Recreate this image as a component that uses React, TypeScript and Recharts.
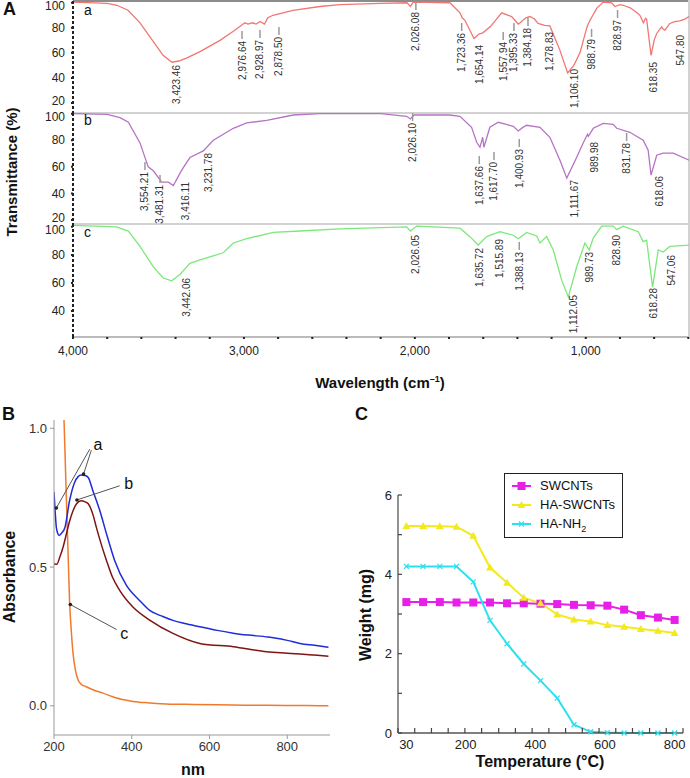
import React from "react"
import { LineChart, Line, XAxis, YAxis, ReferenceDot, ReferenceLine, Legend } from "recharts"

const FONT = "'Liberation Sans', Arial, sans-serif"

// ---------- A: FTIR spectra ----------
const COLOR_A = "#f27672"
const COLOR_B = "#b574c4"
const COLOR_C = "#7ce87a"

const wnA = [4000, 3800, 3743, 3678, 3608, 3509, 3473, 3421, 3380, 3333, 3257, 3140, 3064, 2994, 2976, 2950, 2929, 2905, 2880, 2860, 2830, 2713, 2555, 2438, 2200, 2046, 2026, 2010, 1795, 1736, 1723, 1707, 1654, 1625, 1602, 1558, 1540, 1492, 1434, 1395, 1384, 1350, 1327, 1300, 1279, 1240, 1210, 1151, 1106, 1070, 1034, 995, 989, 975, 936, 898, 849, 829, 800, 781, 740, 700, 683, 663, 650, 644, 618, 600, 585, 556, 548, 537, 508, 480, 450, 420, 396]
const tA = [100.5, 99.5, 98, 94, 84, 65, 58, 52.5, 53.5, 56, 61, 70, 77, 84, 83, 84, 83, 85, 83, 88, 90, 94, 97, 98.5, 99.5, 100, 97, 100.5, 100, 92, 88, 86, 71.5, 75, 76, 81, 84, 92, 89, 83, 84, 88, 89, 87, 83.5, 82, 81.5, 62, 44, 50, 60, 79.5, 82, 86, 95.5, 100.5, 100, 97, 98.5, 98, 96, 92, 90, 84, 87.5, 87, 58, 70, 75.5, 80.8, 79, 78.2, 83.5, 85, 85.6, 87, 89]

const wnB = [4000, 3800, 3725, 3676, 3608, 3560, 3530, 3481, 3442, 3413, 3364, 3316, 3238, 3179, 3062, 2984, 2867, 2711, 2555, 2384, 2200, 2048, 2026, 2005, 1795, 1736, 1668, 1638, 1619, 1603, 1596, 1561, 1512, 1424, 1395, 1370, 1346, 1268, 1210, 1151, 1111, 1053, 1015, 990, 985, 956, 898, 840, 819, 742, 664, 635, 618, 585, 547, 488, 395]
const tB = [100, 99.5, 97, 93.5, 78, 60, 57, 48.5, 48.5, 46, 57.5, 67, 72, 80, 89, 93, 95, 99, 100, 100, 100, 98, 96, 99, 99, 98, 89.75, 78.5, 74.75, 82.25, 74.75, 89.75, 93.5, 90.5, 87, 89.5, 91.25, 89.75, 82.25, 65, 51.5, 67.25, 78, 84.5, 83, 89, 92.75, 92, 89, 86, 80, 72.5, 53.75, 68.75, 70.25, 70.25, 65]

const wnC = [4000, 3745, 3676, 3608, 3530, 3472, 3423, 3374, 3316, 3257, 3121, 3062, 2984, 2828, 2672, 2438, 2048, 2026, 1990, 1736, 1678, 1629, 1580, 1502, 1424, 1395, 1346, 1287, 1268, 1229, 1190, 1141, 1102, 1053, 1005, 980, 956, 907, 839, 819, 781, 693, 664, 644, 609, 576, 547, 508, 395]
const tC = [101, 100, 97, 86, 71.5, 63.5, 61.5, 66, 74, 76.5, 81.5, 88.5, 91.5, 96, 97, 98.5, 100, 97, 100.5, 99, 93, 87, 93, 96.5, 94, 91.5, 96, 93.5, 88.5, 93, 83.5, 62, 50, 71.5, 88.5, 83.5, 92, 100.5, 100.5, 98, 100.5, 96.5, 89.5, 90.5, 57, 83.5, 82, 86, 87]

// peak labels: text, wavenumber of label, transmittance at label top, leader line
const peaksA: [string, number, number, boolean][] = [
  ["3,423.46", 3393, 50.3, false], ["2,976.64", 3011, 69.5, true], ["2,928.97", 2906, 70.3, true],
  ["2,878.50", 2795, 72.7, true], ["2,026.08", 1994, 92.6, true], ["1,723.36", 1726, 75.9, true],
  ["1,654.14", 1619, 66.3, false], ["1,557.94", 1483, 68.7, true], ["1,395.33", 1420, 75.9, true],
  ["1,384.18", 1338, 79.9, true], ["1,278.83", 1214, 76.7, false], ["1,106.10", 1067, 47.1, false],
  ["988.79", 966, 71.1, true], ["828.97", 814, 86.2, true], ["618.35", 605, 52.7, false], ["547.80", 445, 74.3, false],
]
const peaksB: [string, number, number, boolean][] = [
  ["3,554.21", 3579, 56.1, true], ["3,481.31", 3491, 46.4, true], ["3,416.11", 3339, 48.6, false],
  ["3,231.78", 3210, 70.4, false], ["2,026.10", 2013, 93, true], ["1,637.66", 1623, 60.6, true],
  ["1,617.70", 1537, 63.7, true], ["1,400.93", 1389, 73.4, true], ["1,111.67", 1063, 50.1, false],
  ["989.98", 946, 78.7, false], ["831.78", 761, 77.9, true], ["618.06", 570, 53.1, false],
]
const peaksC: [string, number, number, boolean][] = [
  ["3,442.06", 3335, 63.6, false], ["2,026.05", 1995, 94.2, false], ["1,635.72", 1623, 84.9, false],
  ["1,515.89", 1502, 91.3, false], ["1,388.13", 1389, 82.1, true], ["1,112.05", 1073, 51.4, false],
  ["989.73", 980, 82.1, false], ["828.90", 819, 94.2, false], ["618.28", 605, 56.4, false], ["547.06", 498, 79.9, false],
]
const wnTicks = [4000, 3800, 3600, 3400, 3200, 3000, 2800, 2600, 2400, 2200, 2000, 1800, 1600, 1400, 1200, 1000, 800, 600, 400]

// ---------- B: UV-vis ----------
const nmBlue = [200, 203, 206, 210, 213, 218, 228, 240, 253, 262, 270, 280, 288, 300, 318, 335, 356, 386, 420, 446, 480, 506, 540, 575, 620, 661, 700, 750, 764, 800, 833, 870, 906]
const absBlue = [0.77, 0.7, 0.643, 0.62, 0.614, 0.62, 0.642, 0.739, 0.805, 0.826, 0.832, 0.83, 0.823, 0.775, 0.703, 0.62, 0.524, 0.435, 0.38, 0.344, 0.322, 0.308, 0.296, 0.285, 0.272, 0.262, 0.255, 0.248, 0.245, 0.236, 0.225, 0.218, 0.211]
const nmRed = [200, 207, 215, 224, 232, 240, 249, 258, 270, 280, 288, 300, 309, 322, 335, 350, 369, 403, 446, 506, 575, 661, 747, 800, 833, 870, 906]
const absRed = [0.512, 0.51, 0.536, 0.575, 0.62, 0.665, 0.703, 0.728, 0.739, 0.735, 0.728, 0.69, 0.643, 0.58, 0.524, 0.465, 0.416, 0.356, 0.309, 0.261, 0.225, 0.213, 0.195, 0.19, 0.187, 0.183, 0.179]
const nmOrange = [222, 226, 229, 232, 236, 240, 245, 249, 255, 262, 270, 283, 300, 326, 345, 361, 380, 403, 440, 489, 560, 661, 750, 850, 906]
const absOrange = [1.15, 1.02, 0.88, 0.739, 0.56, 0.38, 0.26, 0.189, 0.13, 0.093, 0.078, 0.069, 0.058, 0.046, 0.036, 0.028, 0.022, 0.016, 0.011, 0.007, 0.005, 0.003, 0.002, 0.001, 0]

// ---------- C: TGA ----------
const tempC = [30, 78, 126, 174, 222, 270, 319, 367, 415, 463, 511, 559, 607, 655, 703, 752, 800]
const swcnt = [3.3, 3.3, 3.3, 3.29, 3.29, 3.29, 3.27, 3.27, 3.26, 3.25, 3.23, 3.22, 3.21, 3.11, 2.97, 2.91, 2.85]
const haSwcnt = [5.22, 5.22, 5.21, 5.2, 4.97, 4.17, 3.79, 3.41, 3.27, 2.99, 2.86, 2.81, 2.72, 2.68, 2.62, 2.58, 2.52]
const haNh2 = [4.2, 4.2, 4.2, 4.2, 3.81, 2.84, 2.25, 1.74, 1.32, 0.88, 0.21, 0.03, 0.01, 0, 0, 0, 0]
const tempMajor = [30, 200, 400, 600, 800]
const tempMinor = [6, 54, 102, 150, 198, 246, 295, 343, 391, 439, 487, 535, 583, 631, 679, 728, 776, 824]

const MAGENTA = "#e620e6"
const YELLOW = "#f2ea1f"
const CYAN = "#2ee0ee"

function PeakMark({ cx, cy, text, lead }: { cx: number; cy: number; text: string; lead: boolean }) {
  return (
    <g>
      {lead && <line x1={cx} x2={cx} y1={cy - 10} y2={cy - 2} stroke="#9a9a9a" strokeWidth={1.5} />}
      <text transform={`translate(${cx},${cy}) rotate(-90)`} textAnchor="end" dy="0.35em" fontSize={10} fill="#333">
        {text}
      </text>
    </g>
  )
}

// end labels are nudged inward, as in the source figure
function TransTick({ x, y, payload }: any) {
  const v = payload.value
  const shift = v === 100 ? 3 : v === 20 ? -2 : 0
  return (
    <text x={x} y={y + shift} dy="0.35em" textAnchor="end" fontSize={12} fill="#222">
      {v}
    </text>
  )
}

function Title({ x, y, text, rotate, size = 15 }: { x: number; y: number; text: React.ReactNode; rotate?: boolean; size?: number }) {
  return (
    <div
      style={{
        position: "absolute", left: x, top: y, whiteSpace: "nowrap", fontWeight: "bold", fontSize: size,
        transform: `translate(-50%,-50%)${rotate ? " rotate(-90deg)" : ""}`, color: "#111",
      }}
    >
      {text}
    </div>
  )
}

function Spectrum({ wn, t, color, domain, ticks, peaks, top, height, marginTop, last }: any) {
  const data = wn.map((w: number, i: number) => ({ wn: w, t: t[i] }))
  return (
    <div style={{ position: "absolute", left: 0, top }}>
      <LineChart width={690} height={height} data={data} margin={{ top: marginTop, right: 1, left: 0, bottom: 0 }}>
        {last ? (
          <XAxis
            type="number" dataKey="wn" domain={[396, 4000]} reversed allowDataOverflow
            ticks={wnTicks} interval={0} height={60} tickSize={2} tickMargin={7}
            tickFormatter={(v: number) => (v % 1000 === 0 ? v.toLocaleString("en-US") : "")}
            axisLine={{ stroke: "#bbb", strokeWidth: 2 }} tickLine={{ stroke: "#222", strokeWidth: 2 }}
            tick={{ fontSize: 12, fill: "#222" }}
          />
        ) : (
          <XAxis type="number" dataKey="wn" domain={[396, 4000]} reversed allowDataOverflow hide />
        )}
        <YAxis
          type="number" domain={domain} ticks={ticks} interval={0} width={73} allowDataOverflow
          tickSize={2} tickMargin={6}
          axisLine={{ stroke: "#222", strokeWidth: 2, strokeDasharray: "3 2" }}
          tickLine={{ stroke: "#222", strokeWidth: 2 }} tick={<TransTick />}
        />
        <Line type="linear" dataKey="t" stroke={color} strokeWidth={1.3} dot={false} isAnimationActive={false} />
        {peaks.map(([txt, w, v, lead]: [string, number, number, boolean]) => (
          <ReferenceDot key={txt} x={w} y={v} r={0}
            shape={(p: any) => <PeakMark cx={p.cx} cy={p.cy} text={txt} lead={lead} />} />
        ))}
      </LineChart>
    </div>
  )
}

function PanelA() {
  const sep = (top: number, color: string) => (
    <div style={{ position: "absolute", left: 73, top, width: 617, height: 2, background: color }} />
  )
  const letter = (txt: string, top: number) => (
    <div style={{ position: "absolute", left: 84, top, fontSize: 14, lineHeight: "14px" }}>{txt}</div>
  )
  return (
    <>
      {sep(0, "#8c8c8c")}
      {sep(112, "#d2d2d2")}
      {sep(223, "#d2d2d2")}
      <div style={{ position: "absolute", left: 688, top: 0, width: 2, height: 337, background: "#d2d2d2" }} />
      <Spectrum wn={wnA} t={tA} color={COLOR_A} domain={[12, 101.4]} ticks={[20, 40, 60, 80, 100]} peaks={peaksA} top={0} height={113} marginTop={1} />
      <Spectrum wn={wnB} t={tB} color={COLOR_B} domain={[17, 100.5]} ticks={[20, 40, 60, 80, 100]} peaks={peaksB} top={113} height={111} marginTop={0} />
      <Spectrum wn={wnC} t={tC} color={COLOR_C} domain={[21.5, 102]} ticks={[40, 60, 80, 100]} peaks={peaksC} top={224} height={173} marginTop={0} last />
      {letter("a", 3)}
      {letter("b", 113)}
      {letter("c", 225)}
      <div style={{ position: "absolute", left: 3, top: 0, fontSize: 18, fontWeight: "bold", lineHeight: "18px" }}>A</div>
      <Title x={11} y={172} text="Transmittance (%)" rotate />
      <Title x={380} y={382} text={<span>Wavelength (cm<sup style={{ fontSize: 9 }}>–1</sup>)</span>} />
    </>
  )
}

function PanelB() {
  const blue = nmBlue.map((x, i) => ({ nm: x, v: absBlue[i] }))
  const red = nmRed.map((x, i) => ({ nm: x, v: absRed[i] }))
  const orange = nmOrange.map((x, i) => ({ nm: x, v: absOrange[i] }))
  const arrows: [number, number, number, number][] = [
    [292, 0.925, 206, 0.713], [296, 0.921, 276, 0.835], [369, 0.793, 259, 0.742], [361, 0.275, 242, 0.365],
  ]
  const tags: [string, number, number][] = [["a", 313, 0.943], ["b", 392, 0.803], ["c", 381, 0.262]]
  return (
    <>
      <div style={{ position: "absolute", left: 2, top: 405, fontSize: 18, fontWeight: "bold", lineHeight: "18px" }}>B</div>
      <div style={{ position: "absolute", left: 0, top: 400 }}>
        <LineChart width={340} height={378} margin={{ top: 20, right: 10, left: 0, bottom: 0 }}>
          <XAxis type="number" dataKey="nm" domain={[200, 910]} ticks={[200, 400, 600, 800]} interval={0}
            height={43} tickSize={4} tickMargin={3} allowDataOverflow
            axisLine={{ stroke: "#999" }} tickLine={{ stroke: "#999" }} tick={{ fontSize: 13, fill: "#333" }} />
          <YAxis type="number" domain={[-0.105, 1.03]} ticks={[0, 0.5, 1]} interval={0} width={54}
            tickFormatter={(v: number) => v.toFixed(1)} tickSize={4} tickMargin={3} allowDataOverflow
            axisLine={{ stroke: "#999" }} tickLine={{ stroke: "#999" }} tick={{ fontSize: 13, fill: "#333" }} />
          <Line data={orange} dataKey="v" type="monotone" stroke="#f07a2a" strokeWidth={1.5} dot={false} isAnimationActive={false} />
          <Line data={red} dataKey="v" type="monotone" stroke="#7e1414" strokeWidth={1.5} dot={false} isAnimationActive={false} />
          <Line data={blue} dataKey="v" type="monotone" stroke="#1f2bd8" strokeWidth={1.5} dot={false} isAnimationActive={false} />
          {arrows.map(([x1, y1, x2, y2], i) => (
            <ReferenceLine key={"l" + i} segment={[{ x: x1, y: y1 }, { x: x2, y: y2 }]} stroke="#555" strokeWidth={1} />
          ))}
          {arrows.map(([, , x2, y2], i) => (
            <ReferenceDot key={"d" + i} x={x2} y={y2} r={1.8} fill="#222" stroke="none" />
          ))}
          {tags.map(([t, x, y]) => (
            <ReferenceDot key={t} x={x} y={y} r={0}
              shape={(p: any) => <text x={p.cx} y={p.cy} dy="0.35em" textAnchor="middle" fontSize={16} fill="#111">{t}</text>} />
          ))}
        </LineChart>
      </div>
      <Title x={10} y={577} text="Absorbance" rotate size={16} />
      <Title x={193} y={770} text="nm" size={16} />
    </>
  )
}

const seriesC = [
  { key: "sw", name: "SWCNTs", color: MAGENTA, values: swcnt, marker: "square" },
  { key: "hasw", name: "HA-SWCNTs", color: YELLOW, values: haSwcnt, marker: "triangle" },
  { key: "nh2", name: "HA-NH2", color: CYAN, values: haNh2, marker: "cross" },
]

function Marker({ cx, cy, kind, color }: { cx: number; cy: number; kind: string; color: string }) {
  if (kind === "square") return <rect x={cx - 4} y={cy - 4} width={8} height={8} fill={color} />
  if (kind === "triangle") return <path d={`M${cx},${cy - 4} L${cx + 4},${cy + 3} L${cx - 4},${cy + 3} Z`} fill={color} />
  return <path d={`M${cx - 2.5},${cy - 2.5} L${cx + 2.5},${cy + 2.5} M${cx - 2.5},${cy + 2.5} L${cx + 2.5},${cy - 2.5}`} stroke={color} strokeWidth={1.3} />
}

function TempTick({ x, y, payload }: any) {
  const v = payload.value
  if (tempMajor.includes(v)) {
    return <text x={x} y={y + 16} textAnchor="middle" fontSize={13} fill="#222">{v}</text>
  }
  return <line x1={x} x2={x} y1={y} y2={y - 5} stroke="#444" strokeWidth={1.2} />
}

function WeightTick({ x, y, payload }: any) {
  const v = payload.value
  return (
    <g>
      <line x1={x} x2={x + 4} y1={y} y2={y} stroke="#444" strokeWidth={1.2} />
      {v % 2 === 0 && <text x={x - 6} y={y} dy="0.35em" textAnchor="end" fontSize={13} fill="#222">{v}</text>}
    </g>
  )
}

function WeightLegend() {
  return (
    <div style={{ border: "1px solid #222", background: "#fff", width: 119, height: 65, boxSizing: "border-box", paddingTop: 3 }}>
      {seriesC.map((s) => (
        <div key={s.key} style={{ display: "flex", alignItems: "center", height: 18.7, fontSize: 13, color: "#111" }}>
          <svg width={35} height={12} style={{ flex: "none" }}>
            <line x1={7} x2={26} y1={6} y2={6} stroke={s.color} strokeWidth={2} />
            <Marker cx={16.5} cy={6} kind={s.marker} color={s.color} />
          </svg>
          <span style={{ lineHeight: "14px" }}>
            {s.key === "nh2" ? <>HA-NH<sub style={{ fontSize: 9, lineHeight: 0 }}>2</sub></> : s.name}
          </span>
        </div>
      ))}
    </div>
  )
}

function PanelC() {
  const data = tempC.map((t, i) => ({ t, sw: swcnt[i], hasw: haSwcnt[i], nh2: haNh2[i] }))
  const ticks = [...tempMinor, ...tempMajor].sort((a, b) => a - b)
  return (
    <>
      <div style={{ position: "absolute", left: 355, top: 405, fontSize: 18, fontWeight: "bold", lineHeight: "18px" }}>C</div>
      <div style={{ position: "absolute", left: 340, top: 440 }}>
        <LineChart width={350} height={338} data={data} margin={{ top: 55, right: 7, left: 0, bottom: 0 }}>
          <XAxis type="number" dataKey="t" domain={[6, 824]} ticks={ticks} interval={0} height={45}
            tickSize={0} tickMargin={0} tickLine={false} axisLine={{ stroke: "#555", strokeWidth: 1.3 }} tick={<TempTick />} />
          <YAxis type="number" domain={[0, 6]} ticks={[0, 1, 2, 3, 4, 5, 6]} interval={0} width={58}
            tickSize={0} tickMargin={0} tickLine={false} axisLine={{ stroke: "#555", strokeWidth: 1.3 }} tick={<WeightTick />} />
          <Legend layout="vertical" align="center" verticalAlign="middle" content={() => <WeightLegend />}
            wrapperStyle={{ position: "absolute", left: 164, top: 33, width: 119, height: 65 }} />
          {seriesC.map((s) => (
            <Line key={s.key} dataKey={s.key} name={s.name} type="linear" stroke={s.color} strokeWidth={2}
              isAnimationActive={false}
              dot={(p: any) => <Marker key={s.key + p.index} cx={p.cx} cy={p.cy} kind={s.marker} color={s.color} />} />
          ))}
        </LineChart>
      </div>
      <Title x={366} y={615} text="Weight (mg)" rotate size={16} />
      <Title x={540} y={762} text="Temperature (°C)" size={16} />
    </>
  )
}

export default function App() {
  return (
    <div style={{ position: "absolute", left: 0, top: 0, width: 690, height: 778, background: "#fff", fontFamily: FONT, overflow: "hidden", color: "#111" }}>
      <style>{`.recharts-surface { overflow: visible; }`}</style>
      <PanelA />
      <PanelB />
      <PanelC />
    </div>
  )
}
